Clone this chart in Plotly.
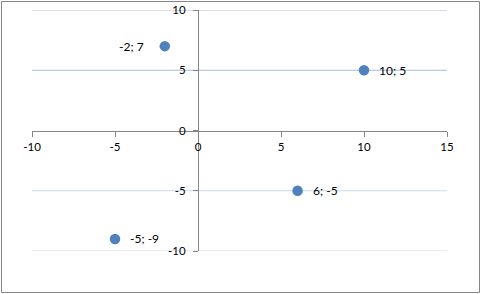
import plotly.graph_objects as go

x_vals = [-2, 10, 6, -5]
y_vals = [7, 5, -5, -9]
labels = ["-2; 7", "10; 5", "6; -5", "-5; -9"]
label_side = ["left", "right", "right", "right"]

x_ticks = [-10, -5, 0, 5, 10, 15]
x_ticktext = ["-10", "-5", "0", "5", "10", "15"]
y_ticks = [-10, -5, 0, 5, 10]
y_ticktext = ["-10", "-5", "0", "5", "10"]
grid_upper = [5, 10]
grid_lower = [-5, -10]

W, H = 481, 294
ML, MR, MT, MB = 32, 34, 10, 43
PW, PH = W - ML - MR, H - MT - MB

FONT = "Lato, Calibri, sans-serif"
AXC = "#868686"

fig = go.Figure()
fig.add_trace(go.Scatter(
    x=x_vals, y=y_vals, mode="markers",
    marker=dict(size=10.5, color="#4F81BD"),
    cliponaxis=False, showlegend=False, hoverinfo="skip",
))

for xv, yv, lab, side in zip(x_vals, y_vals, labels, label_side):
    fig.add_annotation(
        x=xv, y=yv, text=lab, showarrow=False,
        xanchor="right" if side == "left" else "left", yanchor="middle",
        xshift=-19 if side == "left" else 13,
        font=dict(family=FONT, size=12, color="#000000"),
    )

fig.update_layout(
    width=W, height=H,
    margin=dict(l=ML, r=MR, t=MT, b=MB, pad=0),
    paper_bgcolor="white", plot_bgcolor="white",
    font=dict(family=FONT, size=12, color="#000000"),
    xaxis=dict(
        range=[-10, 15], anchor="free", position=0.5, automargin=False,
        showline=True, linecolor=AXC, linewidth=1,
        ticks="outside", ticklen=5, tickcolor=AXC,
        tickvals=x_ticks, ticktext=x_ticktext, ticklabelstandoff=1,
        showgrid=False, zeroline=False,
        tickfont=dict(family=FONT, size=11.5, color="#000000"),
    ),
    yaxis=dict(
        range=[-10, 10], anchor="free", position=0.4, automargin=False,
        showline=True, linecolor=AXC, linewidth=1,
        ticks="outside", ticklen=5, tickcolor=AXC,
        tickvals=y_ticks, ticktext=y_ticktext, ticklabelstandoff=5,
        showgrid=False, zeroline=False,
        tickfont=dict(family=FONT, size=11.5, color="#000000"),
    ),
)

for gy in grid_upper:
    fig.add_shape(type="line", xref="paper", yref="y", x0=0, x1=1, y0=gy, y1=gy,
                  line=dict(color="#A9B9DD", width=1), layer="below")
for gy in grid_lower:
    fig.add_shape(type="line", xref="paper", yref="y", x0=0, x1=1, y0=gy, y1=gy,
                  line=dict(color="#CCDBEF", width=1), layer="below")

# Outer chart border
fig.add_shape(
    type="rect", xref="paper", yref="paper",
    x0=(1.5 - ML) / PW, x1=(479.5 - ML) / PW,
    y0=(MT + PH - 292.5) / PH, y1=(MT + PH - 1.5) / PH,
    line=dict(color=AXC, width=1), fillcolor="rgba(0,0,0,0)", layer="below",
)

fig.write_html("out.html")
